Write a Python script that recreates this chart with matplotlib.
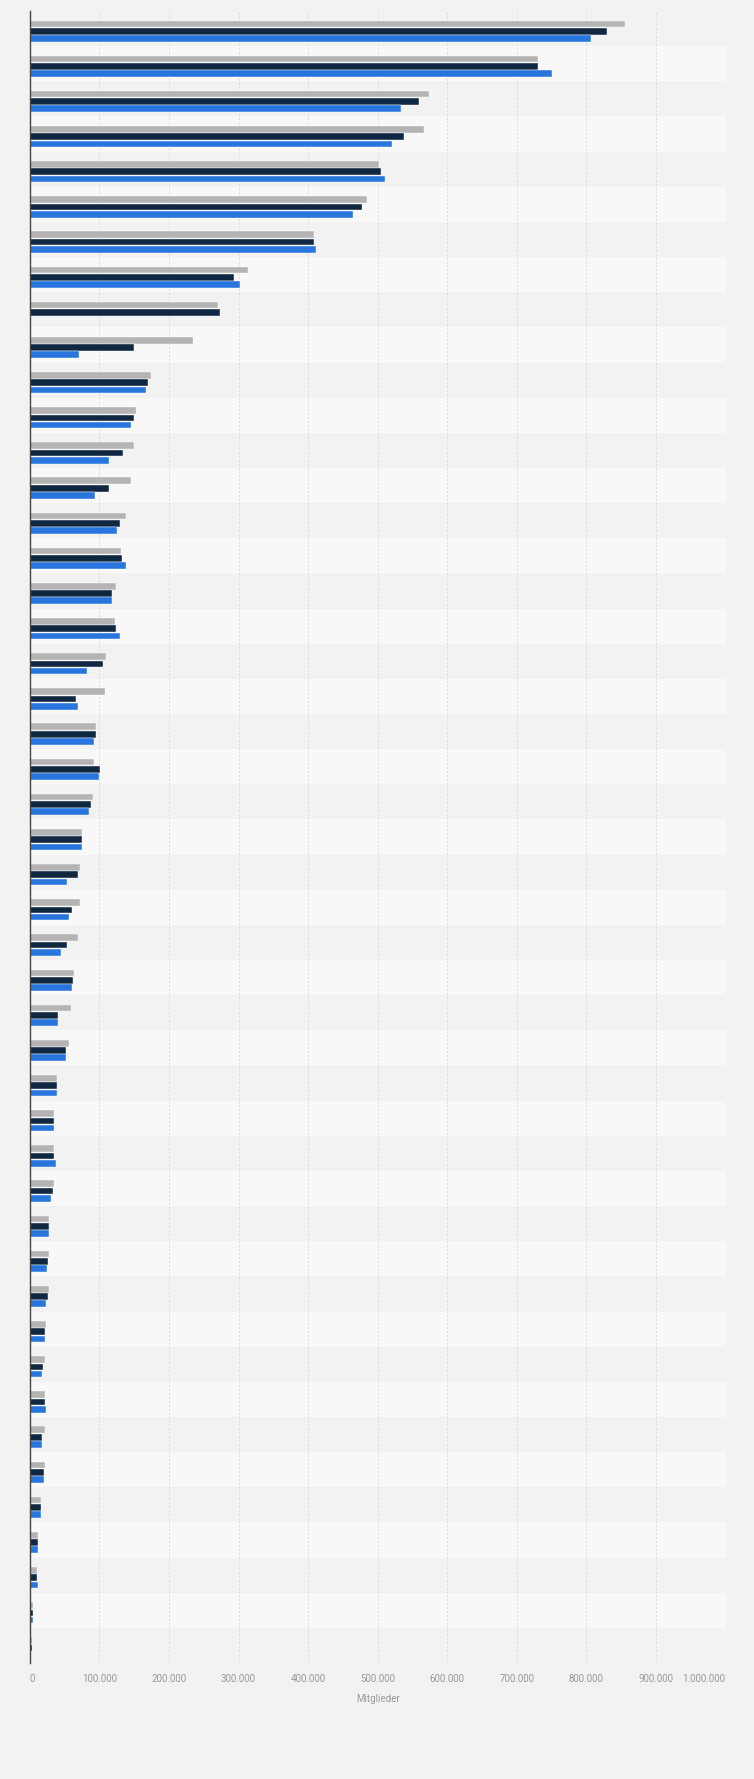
import matplotlib.pyplot as plt
import numpy as np

# Values (members, in thousands); row labels are not shown in the chart
rows = [f'Zeile {i + 1}' for i in range(47)]
series_gray = [856, 731, 574, 566, 502, 484, 409, 313, 270, 234, 174, 153, 150, 145, 138, 131,
               124, 122, 109, 108, 95, 93, 91, 75, 72, 72, 70, 63, 59, 57, 39, 35, 35, 35, 28,
               28, 28, 23, 22, 22, 22, 22, 16, 11.5, 10, 5, 3]
series_dark = [829, 731, 560, 538, 505, 477, 408, 294, 274, 150, 170, 150, 134, 114, 129, 133,
               118, 124, 105, 66, 95, 101, 88, 75, 70, 61, 54, 62, 41, 52, 39, 35, 35, 33, 28,
               26, 26, 22, 19, 22, 17, 20, 16, 11.5, 10, 5, 3.5]
series_blue = [807, 750, 534, 521, 511, 465, 411, 302, 0, 71, 167, 145, 114, 94, 126, 138,
               118, 130, 82, 69, 93, 100, 85, 75, 54, 57, 45, 61, 40, 52, 39, 35, 38, 31, 28,
               25, 23, 22, 17, 23, 17, 20, 16, 11.5, 11.5, 5, 1.5]
x_ticks = [0, 100000, 200000, 300000, 400000, 500000, 600000, 700000, 800000, 900000, 1000000]
x_tick_labels = ['0', '100.000', '200.000', '300.000', '400.000', '500.000', '600.000',
                 '700.000', '800.000', '900.000', '1.000.000']

plt.rcParams['font.family'] = ['Roboto', 'DejaVu Sans']

fig = plt.figure(figsize=(7.54, 17.79), dpi=100, facecolor='#f2f2f2')
ax = fig.add_axes([0.0395, 0.0652, 0.9228, 0.9286])
ax.set_facecolor('#f2f2f2')

y = np.arange(len(rows))

# alternating row bands
for i in y:
    ax.axhspan(i - 0.5, i + 0.5, color='#f2f2f2' if i % 2 == 0 else '#f8f8f8', lw=0, zorder=0)

h = 0.19
for vals, off, col in [(series_gray, -0.135, '#b4b4b4'),
                       (series_dark, 0.075, '#0f2740'),
                       (series_blue, 0.28, '#2876dd')]:
    ax.barh(y + off, np.array(vals) * 1000, height=h, color=col,
            edgecolor='#ffffff', linewidth=0.3, zorder=3)

ax.set_xlim(0, 1000000)
ax.set_ylim(len(rows) - 0.5, -0.5)
ax.set_yticks([])

ax.set_xticks(x_ticks)
ax.set_xticklabels(x_tick_labels, fontsize=7, color='#999999')
lbls = ax.get_xticklabels()
lbls[0].set_ha('left')
lbls[-1].set_ha('right')
ax.tick_params(axis='x', length=0, pad=8)

ax.grid(axis='x', color='#dadada', linestyle=(0, (2, 2)), linewidth=0.7, zorder=1)
for s in ['top', 'right', 'bottom']:
    ax.spines[s].set_visible(False)
ax.spines['left'].set_color('#444444')
ax.spines['left'].set_linewidth(1)
ax.spines['left'].set_zorder(4)

ax.set_xlabel('Mitglieder', fontsize=7, color='#999999', labelpad=7)

fig.savefig('out.png', dpi=100, facecolor=fig.get_facecolor())
